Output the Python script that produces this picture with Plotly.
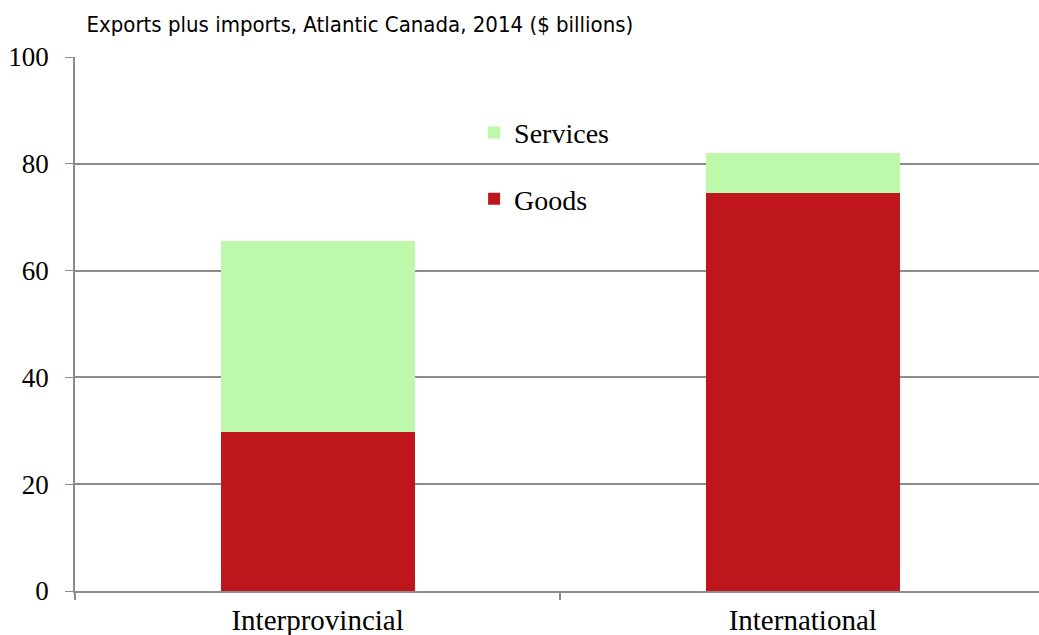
import plotly.graph_objects as go

categories = ["Interprovincial", "International"]
goods = [29.8, 74.5]
services = [35.8, 7.5]
y_ticks = [0, 20, 40, 60, 80, 100]

GOODS_COLOR = "#BE161C"
SERV_COLOR = "#BEF8AA"
GRID = "#8C8C8C"
SERIF = "Liberation Serif, DejaVu Serif, serif"

fig = go.Figure()
fig.add_trace(go.Bar(x=categories, y=goods, name="Goods", marker_color=GOODS_COLOR,
                     marker_line_width=0, width=0.4, legend="legend2"))
fig.add_trace(go.Bar(x=categories, y=services, name="Services", marker_color=SERV_COLOR,
                     marker_line_width=0, width=0.4, legend="legend"))

fig.update_layout(
    width=1039, height=635,
    barmode="stack",
    plot_bgcolor="white", paper_bgcolor="white",
    margin=dict(l=75, r=0, t=57, b=44),
    title=dict(text="Exports plus imports, Atlantic Canada, 2014 ($ billions)",
               x=0.012, xref="paper", xanchor="left",
               y=1 - 24 / 635, yref="container", yanchor="middle",
               font=dict(family="DejaVu Sans Condensed, DejaVu Sans, sans-serif",
                         size=22, color="black")),
    legend=dict(x=0.414, y=0.858, xanchor="left", yanchor="middle",
                font=dict(family=SERIF, size=28, color="black"),
                bgcolor="rgba(0,0,0,0)", itemwidth=30),
    legend2=dict(x=0.414, y=0.734, xanchor="left", yanchor="middle",
                 font=dict(family=SERIF, size=28, color="black"),
                 bgcolor="rgba(0,0,0,0)", itemwidth=30),
    showlegend=True,
)
fig.update_xaxes(range=[-0.5, 1.487], showline=True, linecolor=GRID, linewidth=2,
                 ticks="outside", tickson="boundaries", ticklen=7, tickcolor=GRID,
                 tickwidth=1.5, showgrid=False, ticklabelstandoff=2, automargin=False,
                 tickfont=dict(family=SERIF, size=29, color="black"))
fig.update_yaxes(range=[0, 100], tickvals=y_ticks, showline=True, linecolor=GRID,
                 linewidth=1.5, ticks="outside", ticklen=8, tickcolor=GRID,
                 ticklabelstandoff=11, automargin=False,
                 showgrid=True, gridcolor=GRID, gridwidth=1.5, zeroline=False,
                 tickfont=dict(family=SERIF, size=27, color="black"))

fig.write_html("out.html")
